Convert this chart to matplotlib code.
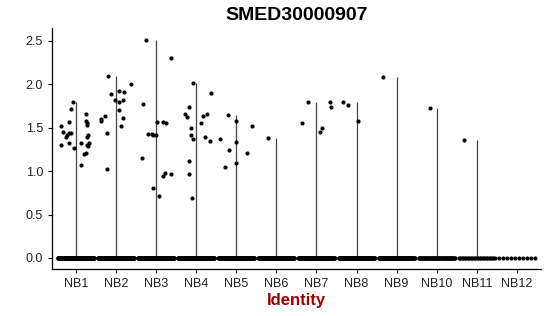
import numpy as np
import matplotlib.pyplot as plt

plt.rcParams['font.family'] = ['Liberation Sans', 'DejaVu Sans']

groups = ['NB1', 'NB2', 'NB3', 'NB4', 'NB5', 'NB6', 'NB7', 'NB8', 'NB9', 'NB10', 'NB11', 'NB12']
# how many cells sit at zero in each cluster (estimated)
zero_counts = [160, 150, 150, 140, 130, 110, 120, 110, 100, 60, 25, 10]

# expressing cells: group index, jitter offset, value
pt_group = [0] * 25 + [1] * 16 + [2] * 16 + [3] * 16 + [4] * 9 + [5] + [6] * 6 + [7] * 3 + [8] + [9] + [10]
pt_offset = [
    -0.38, -0.33, -0.38, -0.25, -0.22, -0.18, -0.13, -0.18, -0.13, -0.08, -0.18, -0.05, 0.12,
    0.12, 0.20, 0.25, 0.25, 0.25, 0.28, 0.27, 0.28, 0.30, 0.27, 0.33, 0.31,
    -0.37, -0.37, -0.27, -0.21, -0.22, -0.22, -0.13, -0.03, 0.08, 0.20, 0.08, 0.18, 0.08,
    0.18, 0.13, 0.37,
    -0.26, -0.33, -0.36, -0.20, -0.11, -0.07, 0.0, 0.02, 0.17, 0.25, -0.08, 0.06, 0.17,
    0.22, 0.37, 0.37,
    -0.09, -0.28, -0.24, -0.17, -0.13, -0.13, -0.08, -0.18, -0.18, -0.11, 0.18, 0.27, 0.12,
    0.21, 0.34, 0.36,
    -0.40, -0.29, -0.18, -0.20, -0.02, 0.0, 0.0, 0.27, 0.39,
    -0.20,
    -0.37, -0.22, 0.08, 0.13, 0.33, 0.35,
    -0.35, -0.21, 0.04,
    -0.33,
    -0.17,
    -0.31,
]
pt_value = [
    1.524, 1.447, 1.302, 1.397, 1.417, 1.436, 1.443, 1.570, 1.715, 1.799, 1.321, 1.263, 1.321,
    1.072, 1.198, 1.214, 1.658, 1.581, 1.558, 1.528, 1.397, 1.417, 1.302, 1.329, 1.290,
    1.597, 1.577, 1.635, 2.090, 1.436, 1.026, 1.884, 1.819, 1.922, 1.910, 1.799, 1.819, 1.707,
    1.608, 1.520, 1.998,
    2.510, 1.769, 1.152, 1.428, 1.428, 1.417, 1.413, 1.562, 1.570, 1.551, 0.804, 0.708, 0.938,
    0.980, 0.961, 2.305,
    2.012, 1.654, 1.619, 1.738, 1.493, 1.417, 1.374, 1.122, 0.972, 0.693, 1.639, 1.662, 1.551,
    1.390, 1.351, 1.895,
    1.374, 1.049, 1.248, 1.646, 1.574, 1.340, 1.099, 1.206, 1.516,
    1.382,
    1.558, 1.796, 1.455, 1.497, 1.799, 1.742,
    1.796, 1.757, 1.581,
    2.085,
    1.723,
    1.362,
]

fig = plt.figure(figsize=(5.5, 3.16), dpi=100)
ax = fig.add_axes([0.0945, 0.149, 0.889, 0.762])

pt_group = np.array(pt_group)
pt_x = pt_group + 1 + np.array(pt_offset)
pt_y = np.array(pt_value)

for i, n in enumerate(zero_counts):
    xpos = i + 1
    vals = pt_y[pt_group == i]
    # violin collapses to a line since almost every cell is zero
    if len(vals):
        ax.vlines(xpos, 0, vals.max(), color='#444444', lw=0.9, zorder=1)
    zx = xpos + np.linspace(-0.45, 0.45, n)
    ax.scatter(zx, np.zeros(n), s=9, color='black', lw=0, zorder=2)

ax.scatter(pt_x, pt_y, s=9, color='black', lw=0, zorder=2)

ax.set_xlim(0.4, 12.6)
ax.set_ylim(-0.126, 2.646)
ax.set_xticks(range(1, len(groups) + 1))
ax.set_xticklabels(groups)
ax.set_yticks([0, 0.5, 1.0, 1.5, 2.0, 2.5])
ax.set_yticklabels(['0.0', '0.5', '1.0', '1.5', '2.0', '2.5'])
ax.tick_params(labelsize=9, labelcolor='#222222', length=3, width=0.8)
for s in ['top', 'right']:
    ax.spines[s].set_visible(False)
for s in ['left', 'bottom']:
    ax.spines[s].set_linewidth(0.9)

ax.set_title('SMED30000907', fontsize=14, fontweight='bold', pad=6)
ax.set_xlabel('Identity', fontsize=12, fontweight='bold', color='#990000', labelpad=2)

fig.savefig('out.png', dpi=100)
